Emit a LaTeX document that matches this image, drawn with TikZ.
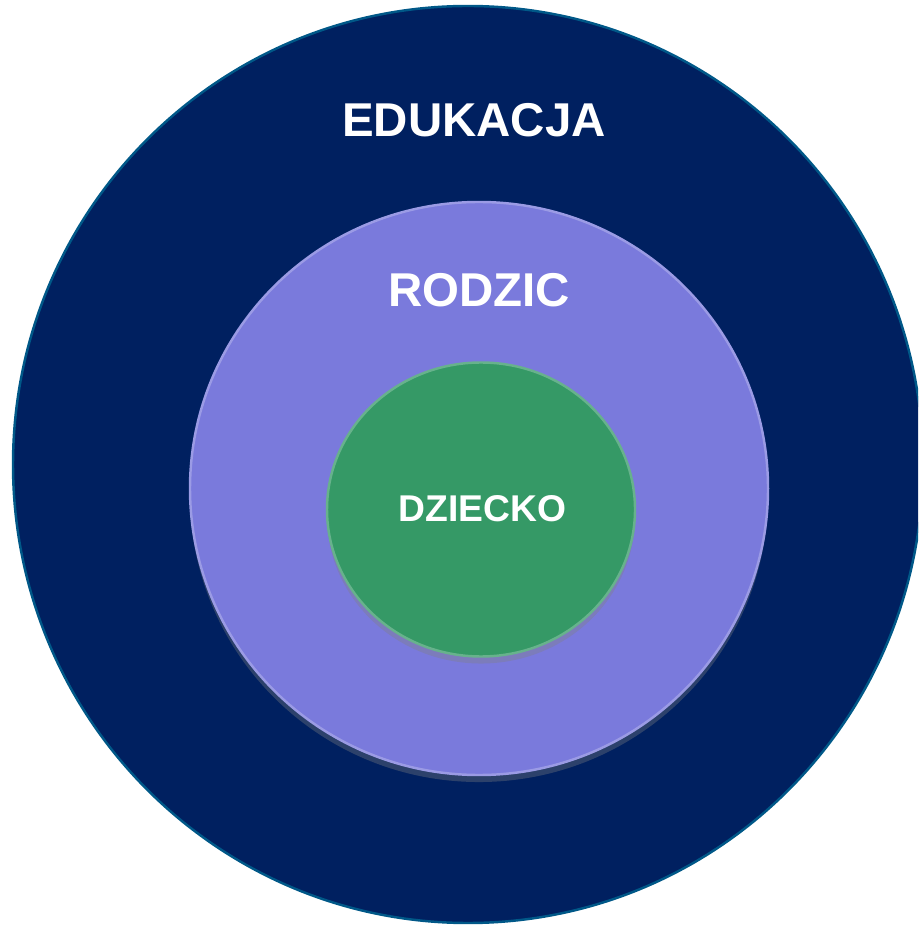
\documentclass[tikz,border=0pt]{standalone}
\usepackage{fontspec}
\setmainfont{Liberation Sans}
\usepackage{tikz}
\usetikzlibrary{positioning,shapes.geometric,shadows}

\definecolor{navy}{HTML}{002060}
\definecolor{lilac}{HTML}{7A7ADC}
\definecolor{leaf}{HTML}{359966}

\begin{document}
\begin{tikzpicture}[
		ring/.style={ellipse, inner sep=0pt, line width=0.7pt},
		outer/.style={ring, fill=navy, draw=navy!75!cyan},
		middle/.style={ring, fill=lilac, draw=lilac!75!white, drop shadow={shadow xshift=0pt, shadow yshift=-2pt, opacity=0.35}},
		inner/.style={ring, fill=leaf, draw=leaf!75!white, drop shadow={shadow xshift=0pt, shadow yshift=-2pt, opacity=0.35}},
		title/.style={anchor=base, text=white, font=\bfseries\fontsize{13.5}{16}\selectfont},
		small/.style={anchor=base, text=white, font=\bfseries\fontsize{10.6}{13}\selectfont},
		]
		\clip (0,0) rectangle (9.18,-9.25);
		\useasboundingbox (0,0) rectangle (9.18,-9.25);

		%Rings
		\node[outer, minimum width=9.10cm, minimum height=9.17cm]	(edukacja)	at (4.68,-4.645)	{};
		\node[middle, minimum width=5.78cm, minimum height=5.73cm]	(rodzic)	at (4.79,-4.885)	{};
		\node[inner, minimum width=3.08cm, minimum height=2.94cm]	(dziecko)	at (4.81,-5.095)	{};

		%Labels
		\node[title]	(edukacja_txt)	at (4.74,-1.37)	{EDUKACJA};
		\node[title]	(rodzic_txt)	at (4.79,-3.07)	{RODZIC};
		\node[small]	(dziecko_txt)	at (4.825,-5.22)	{DZIECKO};

	\end{tikzpicture}
\end{document}
